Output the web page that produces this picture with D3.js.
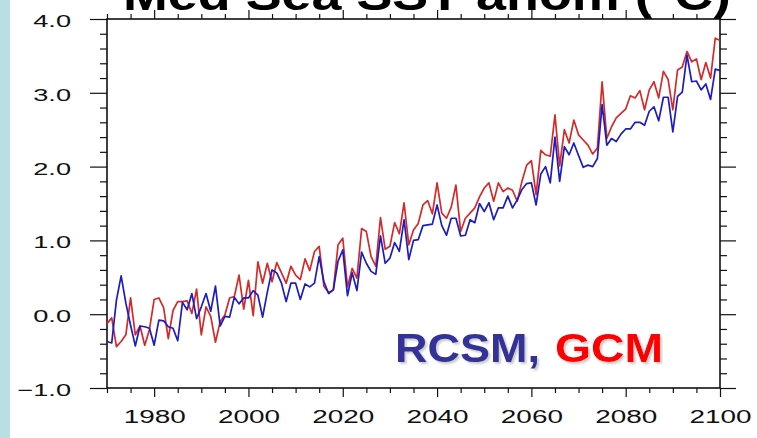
<!DOCTYPE html>
<html><head><meta charset="utf-8">
<script src="https://cdn.jsdelivr.net/npm/d3@7"></script>
<style>body{margin:0;background:#fff;} svg{display:block}</style>
</head><body>
<svg id="c" width="757" height="438"></svg>
<script>
// ---- data ----
const years = d3.range(1970, 2101);
const gcm = [
 -0.13,-0.05,-0.44,-0.37,-0.28, 0.22,-0.28,-0.16,-0.42,-0.21,
  0.20, 0.22, 0.09,-0.33, 0.05, 0.17, 0.17, 0.18, 0.01, 0.34,
 -0.28, 0.10,-0.03,-0.38,-0.10,-0.01, 0.22, 0.24, 0.53, 0.07,
  0.46,-0.02, 0.71, 0.42, 0.69, 0.44, 0.70, 0.56, 0.42, 0.65,
  0.53, 0.47, 0.75, 0.59, 0.85, 0.92, 0.38, 0.29, 0.33, 0.94,
  1.03, 0.37, 0.62, 0.49, 1.16, 1.12, 0.78, 0.65, 1.31, 0.88,
  0.92, 1.24, 1.09, 1.51, 0.94, 1.14, 1.23, 1.48, 1.54, 1.36,
  1.78, 1.37, 1.30, 1.45, 1.75, 1.12, 1.30, 1.37, 1.44, 1.59,
  1.71, 1.78, 1.53, 1.78, 1.66, 1.71, 1.68, 1.53, 1.80, 2.02,
  2.08, 1.62, 2.22, 2.16, 2.14, 2.70, 2.01, 2.50, 2.32, 2.63,
  2.43, 2.36, 2.29, 2.17, 2.25, 3.15, 2.38, 2.54, 2.66, 2.72,
  2.78, 2.96, 2.93, 3.03, 2.77, 3.04, 3.15, 2.93, 3.29, 3.18,
  2.77, 3.31, 3.35, 3.56, 3.42, 3.46, 3.18, 3.41, 3.20, 3.74, 3.71
];
const rcsm = [
 -0.37,-0.39, 0.19, 0.52, 0.15,-0.15,-0.43,-0.16,-0.17,-0.19,
 -0.42,-0.08,-0.09,-0.17,-0.19,-0.36, 0.16, 0.06, 0.28,-0.06,
  0.10, 0.28, 0.04, 0.38,-0.16,-0.03,-0.04, 0.23, 0.14, 0.22,
  0.22, 0.32, 0.26,-0.04, 0.30, 0.60, 0.56, 0.42, 0.17, 0.42,
  0.42, 0.20, 0.41, 0.37, 0.42, 0.78, 0.44, 0.28, 0.33, 0.72,
  0.87, 0.25, 0.56, 0.32, 0.84, 0.69, 0.58, 0.54, 1.06, 0.69,
  0.76, 0.97, 0.85, 1.28, 0.74, 1.00, 1.01, 1.20, 1.21, 1.22,
  1.48, 1.20, 1.07, 1.30, 1.30, 1.06, 1.07, 1.28, 1.24, 1.50,
  1.39, 1.51, 1.28, 1.44, 1.44, 1.60, 1.44, 1.55, 1.69, 1.77,
  1.78, 1.48, 1.90, 2.00, 1.78, 2.40, 1.80, 2.27, 2.16, 2.32,
  2.15, 1.99, 2.02, 2.00, 2.11, 2.84, 2.29, 2.38, 2.34, 2.44,
  2.51, 2.51, 2.60, 2.60, 2.56, 2.75, 2.81, 2.62, 2.94, 2.94,
  2.47, 2.95, 3.01, 3.51, 3.15, 3.16, 3.04, 3.12, 2.91, 3.32, 3.30
];
const yMajorTicks = [-1, 0, 1, 2, 3, 4];
const yMinorTicks = d3.range(-1, 4.001, 0.2).map(v => +v.toFixed(1)).filter(v => !yMajorTicks.includes(v));
const xMajorTicks = [1980, 2000, 2020, 2040, 2060, 2080, 2100];
const xMinorTicks = d3.range(1970, 2101, 5).filter(v => !xMajorTicks.includes(v));
const titleText = "Med Sea SST anom (°C)";
const legendRCSM = "RCSM,";
const legendGCM = "GCM";

// ---- drawing ----
const W = 757, H = 438;
const svg = d3.select("#c");
const P = {l: 107, r: 720, t: 19, b: 388};
const x = d3.scaleLinear().domain([1970, 2100]).range([P.l, P.r]);
const y = d3.scaleLinear().domain([-1, 4]).range([P.b, P.t]);
const FONT = "'Liberation Sans', Arial, Helvetica, sans-serif";

const defs = svg.append("defs");
const f = defs.append("filter").attr("id", "shadow").attr("x", "-10%").attr("y", "-10%")
  .attr("width", "130%").attr("height", "140%");
f.append("feDropShadow").attr("dx", 2).attr("dy", 2).attr("stdDeviation", 1.2)
  .attr("flood-color", "#888").attr("flood-opacity", 0.45);

svg.append("rect").attr("width", W).attr("height", H).attr("fill", "#fff");
svg.append("rect").attr("x", 0).attr("y", 0).attr("width", 10).attr("height", H).attr("fill", "#b9dfe4");

// title (cut off at the top, as in the reference)
svg.append("text").attr("x", 123).attr("y", 10)
  .attr("font-family", FONT).attr("font-weight", "bold").attr("font-size", 44)
  .attr("fill", "#000").attr("textLength", 608).attr("lengthAdjust", "spacingAndGlyphs")
  .text(titleText);

function styleAxis(g) {
  g.select(".domain").remove();
  g.selectAll(".tick line").attr("stroke", "#111").attr("stroke-width", 1.2);
}
function stretch(sel, k) {
  sel.each(function() {
    const len = this.getComputedTextLength();
    d3.select(this).attr("textLength", len * k).attr("lengthAdjust", "spacingAndGlyphs");
  });
}

// left axis
svg.append("g").attr("transform", `translate(${P.l},0)`)
  .call(d3.axisLeft(y).tickValues(yMinorTicks).tickSize(7).tickFormat(""))
  .call(styleAxis);
const gl = svg.append("g").attr("transform", `translate(${P.l},0)`)
  .call(d3.axisLeft(y).tickValues(yMajorTicks).tickSize(17).tickPadding(19).tickFormat(d3.format(".1f")))
  .call(styleAxis);
gl.selectAll("text").attr("font-family", FONT).attr("font-size", 17).attr("fill", "#111")
  .attr("dy", 0).attr("y", 7.5).call(stretch, 1.6);

// right axis
svg.append("g").attr("transform", `translate(${P.r},0)`)
  .call(d3.axisRight(y).tickValues(yMinorTicks).tickSize(7).tickFormat(""))
  .call(styleAxis);
svg.append("g").attr("transform", `translate(${P.r},0)`)
  .call(d3.axisRight(y).tickValues(yMajorTicks).tickSize(16).tickFormat(""))
  .call(styleAxis);

// bottom axis
svg.append("g").attr("transform", `translate(0,${P.b})`)
  .call(d3.axisBottom(x).tickValues(xMinorTicks).tickSize(5).tickFormat(""))
  .call(styleAxis);
const gb = svg.append("g").attr("transform", `translate(0,${P.b})`)
  .call(d3.axisBottom(x).tickValues(xMajorTicks).tickSize(9).tickFormat(d3.format("d")))
  .call(styleAxis);
gb.selectAll("text").attr("font-family", FONT).attr("font-size", 18).attr("fill", "#111")
  .attr("dy", 0).attr("y", 35).call(stretch, 1.55);

// top axis
svg.append("g").attr("transform", `translate(0,${P.t})`)
  .call(d3.axisTop(x).tickValues(xMinorTicks).tickSize(5).tickFormat(""))
  .call(styleAxis);
svg.append("g").attr("transform", `translate(0,${P.t})`)
  .call(d3.axisTop(x).tickValues(xMajorTicks).tickSize(9).tickFormat(""))
  .call(styleAxis);

// frame
svg.append("rect").attr("x", P.l).attr("y", P.t).attr("width", P.r - P.l).attr("height", P.b - P.t)
  .attr("fill", "none").attr("stroke", "#111").attr("stroke-width", 1.6);

// series
const line = d3.line().x((d, i) => x(years[i])).y(d => y(d));
svg.append("path").datum(gcm).attr("d", line).attr("fill", "none")
  .attr("stroke", "#d42a2a").attr("stroke-width", 1.7).attr("stroke-linejoin", "round");
svg.append("path").datum(rcsm).attr("d", line).attr("fill", "none")
  .attr("stroke", "#1c1cc0").attr("stroke-width", 1.7).attr("stroke-linejoin", "round");

// legend text (with soft drop shadow)
function legend(txt, xx, len, col) {
  svg.append("text").attr("x", xx).attr("y", 362).attr("font-family", FONT)
    .attr("font-weight", "bold").attr("font-size", 41).attr("fill", col)
    .attr("filter", "url(#shadow)")
    .attr("textLength", len).attr("lengthAdjust", "spacingAndGlyphs").text(txt);
}
legend(legendRCSM, 395, 145, "#333399");
legend(legendGCM, 555, 108, "#ff0000");
</script>
</body></html>
